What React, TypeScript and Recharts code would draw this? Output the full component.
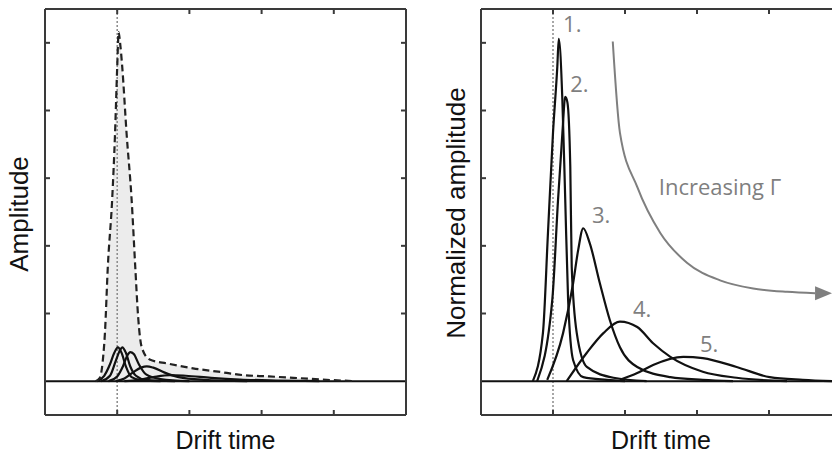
import { ComposedChart, Line, Area, XAxis, YAxis, ReferenceLine, ReferenceDot } from "recharts";

// ---- left panel: measured sum (dashed envelope) + component peaks ----
const envX = [0.7, 0.76, 0.8, 0.83, 0.87, 0.93, 0.97, 1.0, 1.02, 1.04, 1.07, 1.13, 1.2, 1.25, 1.29, 1.34, 1.45, 1.7, 2.05, 2.4, 2.74, 3.1, 3.44, 3.9, 4.3];
const envY = [0, 0.05, 0.3, 0.71, 1.69, 2.68, 3.66, 4.64, 5.16, 5.0, 4.64, 3.66, 2.68, 1.69, 0.95, 0.5, 0.32, 0.26, 0.19, 0.14, 0.09, 0.07, 0.05, 0.02, 0];

const l1X = [0.72, 0.82, 0.9, 0.96, 1.01, 1.06, 1.12, 1.2, 1.35, 1.6];
const l1Y = [0, 0.08, 0.25, 0.42, 0.5, 0.42, 0.22, 0.06, 0.01, 0];
const l2X = [0.78, 0.9, 0.98, 1.04, 1.07, 1.12, 1.18, 1.26, 1.4, 1.8];
const l2Y = [0, 0.08, 0.3, 0.46, 0.5, 0.42, 0.22, 0.08, 0.02, 0];
const l3X = [0.88, 1.0, 1.08, 1.14, 1.18, 1.23, 1.3, 1.4, 1.6, 2.0];
const l3Y = [0, 0.07, 0.22, 0.38, 0.43, 0.4, 0.25, 0.1, 0.03, 0];
const l4X = [0.98, 1.1, 1.22, 1.33, 1.41, 1.5, 1.65, 1.85, 2.2, 2.8];
const l4Y = [0, 0.04, 0.13, 0.2, 0.22, 0.2, 0.13, 0.06, 0.02, 0];
const l5X = [1.1, 1.3, 1.5, 1.73, 1.95, 2.3, 2.7, 3.2, 3.8];
const l5Y = [0, 0.02, 0.06, 0.09, 0.08, 0.05, 0.025, 0.01, 0];

// ---- right panel: normalized peaks 1..5 ----
const p1X = [0.72, 0.86, 0.93, 1.0, 1.06, 1.08, 1.13, 1.17, 1.21, 1.28, 1.42, 1.75, 2.0];
const p1Y = [0, 0.71, 2.19, 3.67, 4.65, 5.06, 4.16, 2.68, 1.2, 0.31, 0.06, 0.02, 0];
const p2X = [0.78, 0.99, 1.07, 1.13, 1.17, 1.2, 1.24, 1.26, 1.33, 1.47, 1.84, 2.3];
const p2Y = [0, 1.2, 2.68, 3.66, 4.2, 4.12, 3.17, 1.69, 0.71, 0.21, 0.05, 0];
const p3X = [0.92, 1.14, 1.28, 1.35, 1.42, 1.51, 1.65, 1.79, 1.93, 2.17, 2.63, 3.08, 3.5];
const p3Y = [0.02, 0.71, 1.45, 1.94, 2.26, 2.04, 1.45, 0.9, 0.5, 0.21, 0.06, 0.02, 0];
const p4X = [1.19, 1.47, 1.7, 1.93, 2.17, 2.39, 2.63, 3.08, 3.55, 4.25];
const p4Y = [0, 0.42, 0.71, 0.88, 0.8, 0.56, 0.36, 0.14, 0.05, 0];
const p5X = [1.93, 2.17, 2.39, 2.81, 3.08, 3.55, 4.01, 4.47, 4.9];
const p5Y = [0.02, 0.12, 0.24, 0.36, 0.34, 0.21, 0.06, 0.02, 0];

const peakLabels = ["1.", "2.", "3.", "4.", "5."];
const peakLabelX = [1.14, 1.24, 1.54, 2.11, 3.04];
const peakLabelY = [5.16, 4.27, 2.34, 0.95, 0.43];

const arrowX = [1.83, 1.93, 2.17, 2.49, 2.86, 3.32, 3.78, 4.25, 4.64];
const arrowY = [5.02, 3.67, 2.87, 2.19, 1.75, 1.49, 1.37, 1.32, 1.3];

const xTicks = [1, 2, 3, 4];
const yTicks = [1, 2, 3, 4, 5];

const pts = (xs: number[], ys: number[]) => xs.map((x, i) => ({ x, y: ys[i] }));

const frame = "#3a3a3a";
const grey = "#7f7f7f";
const annoFont = "'Open Sans', 'Noto Sans', sans-serif";
const axisFont = "'Liberation Sans', Arial, sans-serif";
const blank = () => "";

const frameAxes = () => [
  <XAxis key="xb" xAxisId="b" type="number" dataKey="x" orientation="bottom" domain={[0, 5]} ticks={xTicks}
    allowDataOverflow mirror height={1} tickFormatter={blank} tickSize={5} stroke={frame} strokeWidth={2} />,
  <XAxis key="xt" xAxisId="t" type="number" dataKey="x" orientation="top" domain={[0, 5]} ticks={xTicks}
    allowDataOverflow mirror height={1} tickFormatter={blank} tickSize={5} stroke={frame} strokeWidth={2} />,
  <YAxis key="yl" yAxisId="l" type="number" dataKey="y" orientation="left" domain={[-0.5, 5.5]} ticks={yTicks}
    allowDataOverflow mirror width={1} tickFormatter={blank} tickSize={5} stroke={frame} strokeWidth={2} />,
  <YAxis key="yr" yAxisId="r" type="number" dataKey="y" orientation="right" domain={[-0.5, 5.5]} ticks={yTicks}
    allowDataOverflow mirror width={1} tickFormatter={blank} tickSize={5} stroke={frame} strokeWidth={2} />,
  <ReferenceLine key="dot" xAxisId="b" yAxisId="l" x={1} stroke="#8a8a8a" strokeWidth={1.5} strokeDasharray="2 2" />,
  <ReferenceLine key="zero" xAxisId="b" yAxisId="l" y={0} stroke="#111" strokeWidth={2} />,
];

const peak = (key: string, xs: number[], ys: number[]) => (
  <Line key={key} xAxisId="b" yAxisId="l" data={pts(xs, ys)} dataKey="y" type="monotone"
    stroke="#111" strokeWidth={2.2} dot={false} isAnimationActive={false} />
);

function ArrowHead(props: any) {
  const { cx, cy, index } = props;
  if (index !== arrowX.length - 1) return <g key={index} />;
  return <polygon key={index} points={`${cx},${cy - 7} ${cx + 17},${cy} ${cx},${cy + 7}`} fill={grey} />;
}

export default function App() {
  return (
    <div style={{ position: "absolute", left: 0, top: 0, width: 832, height: 453, overflow: "hidden", background: "#fff" }}>
      <div style={{ position: "absolute", left: 0, top: 0 }}>
        <ComposedChart width={420} height={453} margin={{ top: 9, right: 14, bottom: 38, left: 45 }}>
          {frameAxes()}
          <Area xAxisId="b" yAxisId="l" data={pts(envX, envY)} dataKey="y" type="monotone" baseValue={0}
            stroke="none" fill="#ececec" fillOpacity={1} isAnimationActive={false} />
          {peak("l5", l5X, l5Y)}
          {peak("l4", l4X, l4Y)}
          {peak("l3", l3X, l3Y)}
          {peak("l2", l2X, l2Y)}
          {peak("l1", l1X, l1Y)}
          <Line xAxisId="b" yAxisId="l" data={pts(envX, envY)} dataKey="y" type="monotone"
            stroke="#222" strokeWidth={2.2} strokeDasharray="7 4" dot={false} isAnimationActive={false} />
        </ComposedChart>
      </div>

      <div style={{ position: "absolute", left: 420, top: 0 }}>
        <ComposedChart width={440} height={453} margin={{ top: 9, right: 19, bottom: 38, left: 61 }}>
          {frameAxes()}
          {peak("p5", p5X, p5Y)}
          {peak("p4", p4X, p4Y)}
          {peak("p3", p3X, p3Y)}
          {peak("p2", p2X, p2Y)}
          {peak("p1", p1X, p1Y)}
          <Line xAxisId="b" yAxisId="l" data={pts(arrowX, arrowY)} dataKey="y" type="monotone"
            stroke={grey} strokeWidth={2} dot={ArrowHead} isAnimationActive={false} />
          {peakLabels.map((t, i) => (
            <ReferenceDot key={t} xAxisId="b" yAxisId="l" x={peakLabelX[i]} y={peakLabelY[i]} r={0}
              shape={(p: any) => (
                <text x={p.cx} y={p.cy} fill={grey} fontSize={22} fontFamily={annoFont}>{t}</text>
              )} />
          ))}
          <ReferenceDot xAxisId="b" yAxisId="l" x={2.47} y={2.75} r={0}
            shape={(p: any) => (
              <text x={p.cx} y={p.cy} fill={grey} fontSize={22} fontFamily={annoFont}>Increasing Γ</text>
            )} />
        </ComposedChart>
      </div>

      <div style={{ position: "absolute", left: 225.5, top: 428, transform: "translateX(-50%)", fontFamily: axisFont, fontSize: 25, lineHeight: "25px", whiteSpace: "nowrap", color: "#111" }}>Drift time</div>
      <div style={{ position: "absolute", left: 661, top: 428, transform: "translateX(-50%)", fontFamily: axisFont, fontSize: 25, lineHeight: "25px", whiteSpace: "nowrap", color: "#111" }}>Drift time</div>
      <div style={{ position: "absolute", left: 18.5, top: 214, transform: "translate(-50%, -50%) rotate(-90deg)", fontFamily: axisFont, fontSize: 26, lineHeight: "26px", whiteSpace: "nowrap", color: "#111" }}>Amplitude</div>
      <div style={{ position: "absolute", left: 455.5, top: 213, transform: "translate(-50%, -50%) rotate(-90deg)", fontFamily: axisFont, fontSize: 26, lineHeight: "26px", whiteSpace: "nowrap", color: "#111" }}>Normalized amplitude</div>
    </div>
  );
}
